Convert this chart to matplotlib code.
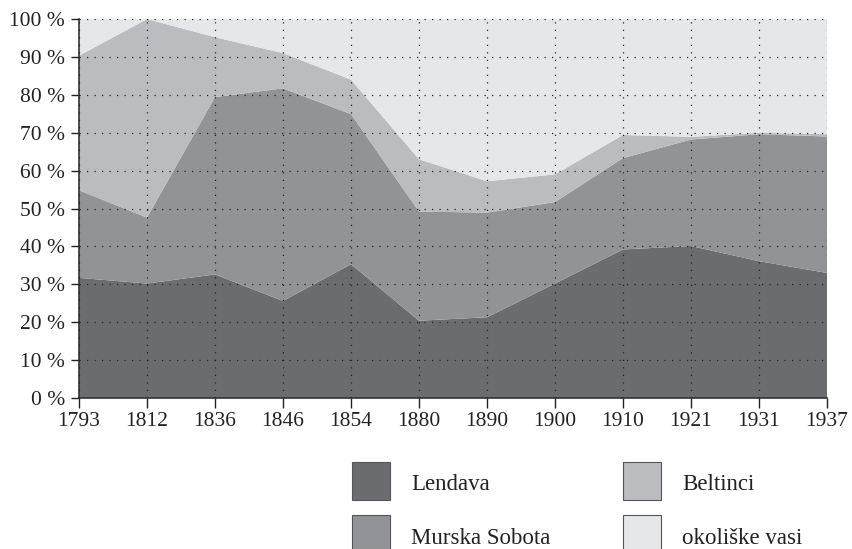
import matplotlib
matplotlib.use("Agg")
import matplotlib.pyplot as plt
from matplotlib.patches import Rectangle
import numpy as np

years = ["1793", "1812", "1836", "1846", "1854", "1880", "1890", "1900", "1910", "1921", "1931", "1937"]
series_names = ["Lendava", "Murska Sobota", "Beltinci", "okoliške vasi"]
lendava = [31.7, 30.2, 32.6, 25.6, 35.3, 20.4, 21.3, 30.2, 39.2, 40.1, 36.1, 33.0]
murska_sobota = [23.1, 17.4, 46.8, 56.1, 39.6, 28.8, 27.6, 21.5, 24.1, 28.1, 33.5, 36.0]
beltinci = [35.5, 52.4, 15.8, 9.3, 9.1, 13.8, 8.3, 7.3, 6.1, 0.7, 0.4, 0.6]
okoliske = [9.7, 0.0, 4.8, 9.0, 16.0, 37.0, 42.8, 41.0, 30.6, 31.1, 30.0, 30.4]
colors = ["#6b6c70", "#929397", "#bbbcc0", "#e6e7e9"]
yticks = [0, 10, 20, 30, 40, 50, 60, 70, 80, 90, 100]

plt.rcParams['font.family'] = ['Liberation Serif', 'DejaVu Serif']

W, H = 853, 549
fig = plt.figure(figsize=(W / 100, H / 100), dpi=100)
ax = fig.add_axes([79 / W, 1 - 398 / H, (827 - 79) / W, (398 - 19) / H])

x = np.arange(len(years))
ax.stackplot(x, lendava, murska_sobota, beltinci, okoliske, colors=colors, linewidth=0)

ax.set_xlim(0, len(years) - 1)
ax.set_ylim(0, 100)
ax.set_xticks(x)
ax.set_xticklabels(years)
ax.set_yticks(yticks)
ax.set_yticklabels([f"{v} %" for v in yticks])
ax.tick_params(axis='both', direction='out', labelsize=15.5, colors='#222222', width=1)
ax.tick_params(axis='x', length=7, pad=3)
ax.tick_params(axis='y', length=6, pad=4)
ax.grid(True, linestyle=(0, (1, 5)), color='#222222', linewidth=0.9)
ax.set_axisbelow(False)
for s in ['top', 'right']:
    ax.spines[s].set_visible(False)
for s in ['left', 'bottom']:
    ax.spines[s].set_color('#333333')
    ax.spines[s].set_linewidth(1.2)

# legend (manual layout)
pos = [(352, 462), (352, 515), (623, 462), (623, 515)]
for (px, py), name, c in zip(pos, series_names, colors):
    fig.add_artist(Rectangle((px / W, 1 - (py + 38) / H), 38 / W, 38 / H,
                             transform=fig.transFigure, facecolor=c,
                             edgecolor='#555555', linewidth=0.8))
    fig.text((px + 59) / W, 1 - (py + 23) / H, name, fontsize=16.5,
             color='#222222', va='center', ha='left')

fig.savefig("out.png", dpi=100)
